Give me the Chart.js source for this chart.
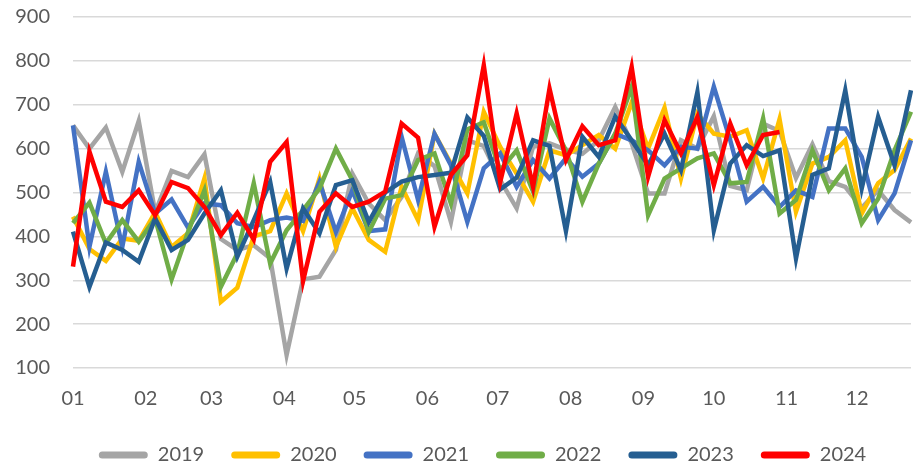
<!DOCTYPE html>
<html>
<head>
<meta charset="utf-8">
<script src="https://cdn.jsdelivr.net/npm/chart.js@4.4.1/dist/chart.umd.min.js"></script>
<style>
  html, body { margin: 0; padding: 0; background: #ffffff; }
  #wrap { width: 913px; height: 463px; position: relative; }
</style>
</head>
<body>
<div id="wrap"><canvas id="c" width="913" height="463"></canvas></div>
<script>
// Weekly observations (52 weeks), x position = day of year of the week start
const weeks = Array.from({length: 52}, (_, i) => i + 1);
const monthStartDays = [0, 31, 59, 90, 120, 151, 181, 212, 243, 273, 304, 334];
const monthLabels = ['01','02','03','04','05','06','07','08','09','10','11','12'];
const yTicks = [100, 200, 300, 400, 500, 600, 700, 800, 900];

const seriesNames = ['2019', '2020', '2021', '2022', '2023', '2024'];

const s2019 = [653,600,648,547,663,455,549,535,587,394,369,380,350,130,302,308,369,543,475,437,
               490,589,560,433,619,606,528,464,605,612,598,588,619,695,612,498,498,619,600,674,
               515,505,657,640,533,610,526,513,465,505,460,432];
const s2020 = [445,371,344,395,390,455,376,407,532,251,283,400,412,498,412,532,376,464,392,365,
               513,437,634,566,498,684,604,543,479,596,585,608,631,600,705,600,693,532,680,634,
               627,642,532,667,456,566,581,619,452,521,551,623];
const s2021 = [653,376,547,376,570,452,484,420,475,471,430,421,437,443,435,524,410,505,412,416,
               627,483,634,562,433,555,589,513,574,532,578,536,566,634,619,596,562,604,600,741,
               619,479,513,467,505,490,646,646,581,437,498,619];
const s2022 = [430,477,384,437,388,441,302,410,505,285,361,521,338,414,460,509,600,528,410,486,
               494,574,589,475,644,660,551,596,502,669,596,479,566,634,741,448,532,555,578,589,
               521,524,669,452,483,596,505,555,430,486,596,684];
const s2023 = [411,285,386,369,342,441,369,392,452,505,354,437,524,327,464,407,517,528,433,500,
               525,535,540,545,671,629,507,534,619,606,412,627,581,673,619,562,634,551,729,414,
               566,608,583,596,350,540,555,733,509,672,562,733];
const s2024 = [331,593,479,467,505,448,524,510,467,403,454,393,570,615,298,456,498,467,479,502,
               657,625,422,540,585,790,524,680,513,737,574,651,608,619,786,536,665,589,672,517,
               657,562,631,638];

const seriesValues = [s2019, s2020, s2021, s2022, s2023, s2024];
const seriesColors = ['#A5A5A5', '#FFC000', '#4472C4', '#70AD47', '#255E91', '#FF0000'];

const datasets = seriesNames.map((name, k) => ({
  label: name,
  data: seriesValues[k].map((v, i) => ({x: (weeks[i] - 1) * 7, y: v})),
  borderColor: seriesColors[k],
  backgroundColor: seriesColors[k],
  borderWidth: 4.5,
  pointRadius: 0,
  tension: 0,
  borderJoinStyle: 'miter',
  borderCapStyle: 'butt',
  order: seriesNames.length - 1 - k,
  clip: 6
}));

const fontFamily = 'Lato, "Open Sans", "DejaVu Sans", sans-serif';
const textColor = '#595959';
const legendFontSize = 20;
const legendPadding = 27;
const legendShift = 27;

// Keep the legend's horizontal spacing but trim its bottom padding, and nudge the row to the right
const legendFitPlugin = {
  id: 'legendFit',
  afterInit(chart) {
    const lg = chart.legend;
    if (!lg) return;
    const orig = lg.fit;
    lg.fit = function () {
      orig.call(this);
      this.height = legendPadding + legendFontSize - 2;
      if (this.lineWidths && this.lineWidths.length) {
        this.lineWidths[0] -= legendShift * 2;
      }
    };
  }
};

new Chart(document.getElementById('c'), {
  type: 'line',
  data: { datasets },
  plugins: [legendFitPlugin],
  options: {
    responsive: false,
    animation: false,
    events: [],
    layout: { padding: { top: 0, right: 2, left: 0, bottom: 0 } },
    scales: {
      x: {
        type: 'linear',
        min: 0,
        max: (weeks[weeks.length - 1] - 1) * 7,
        afterBuildTicks: (axis) => { axis.ticks = monthStartDays.map(v => ({value: v})); },
        afterFit: (axis) => { axis.height = 50; },
        grid: { display: false, drawTicks: false },
        border: { display: false },
        ticks: {
          autoSkip: false,
          maxRotation: 0,
          padding: 19,
          color: textColor,
          font: { family: fontFamily, size: 20 },
          callback: (value) => {
            const idx = monthStartDays.indexOf(value);
            return idx >= 0 ? monthLabels[idx] : '';
          }
        }
      },
      y: {
        min: yTicks[0],
        max: yTicks[yTicks.length - 1],
        afterBuildTicks: (axis) => { axis.ticks = yTicks.map(v => ({value: v})); },
        afterFit: (axis) => {
          axis.width = 73;
          axis.paddingTop = 17;
          axis.paddingBottom = 0;
        },
        grid: { color: '#D9D9D9', lineWidth: 1.5, drawTicks: false },
        border: { display: false },
        ticks: {
          padding: 23,
          color: textColor,
          font: { family: fontFamily, size: 20 }
        }
      }
    },
    plugins: {
      tooltip: { enabled: false },
      legend: {
        position: 'bottom',
        align: 'center',
        labels: {
          boxWidth: 49,
          boxHeight: 7,
          padding: legendPadding,
          color: textColor,
          font: { family: fontFamily, size: legendFontSize },
          useBorderRadius: true,
          borderRadius: 3.5,
          generateLabels: (chart) => chart.data.datasets.map((ds, i) => ({
            text: ds.label,
            fillStyle: ds.borderColor,
            strokeStyle: ds.borderColor,
            lineWidth: 0,
            fontColor: textColor,
            hidden: false,
            datasetIndex: i,
            borderRadius: 3.5
          }))
        }
      }
    }
  }
});
</script>
</body>
</html>
